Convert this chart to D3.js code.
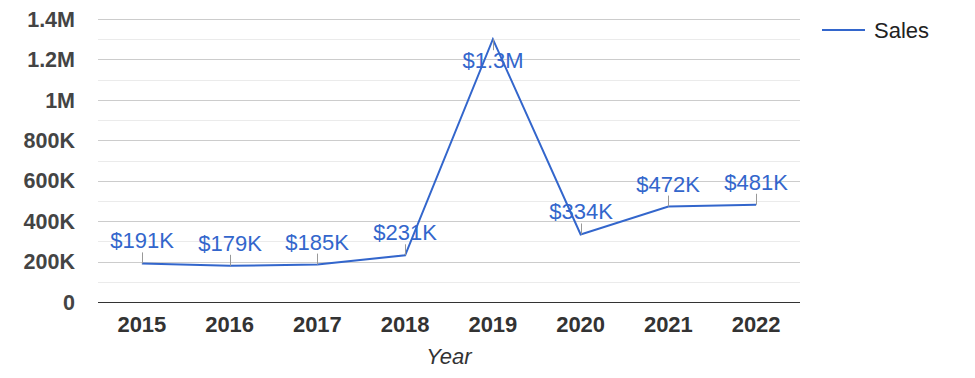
<!DOCTYPE html>
<html><head><meta charset="utf-8">
<script src="https://cdn.jsdelivr.net/npm/d3@7"></script>
<style>body{margin:0;background:#fff}svg{display:block;font-family:Arial,"Liberation Sans",sans-serif}</style>
</head><body><svg id="c" width="975" height="378"></svg>
<script>
const years = ["2015","2016","2017","2018","2019","2020","2021","2022"];
const sales = [191000,179000,185000,231000,1300000,334000,472000,481000];
const labels = ["$191K","$179K","$185K","$231K","$1.3M","$334K","$472K","$481K"];
const yTicks = [0,200000,400000,600000,800000,1000000,1200000,1400000];
const yTickLabels = ["0","200K","400K","600K","800K","1M","1.2M","1.4M"];
const minorTicks = [100000,300000,500000,700000,900000,1100000,1300000];
const seriesName = "Sales";
const xTitle = "Year";

const svg = d3.select("#c");
const L = 98, R = 800, T = 19, B = 302;
const x = d3.scaleBand().domain(years).range([L, R]);
const y = d3.scaleLinear().domain([0,1400000]).range([B, T]);
const cx = d => x(d) + x.bandwidth()/2;
const blue = "#3366cc";
const FS = 22;

svg.append("g").selectAll("line").data(minorTicks).join("line")
  .attr("x1", L).attr("x2", R).attr("y1", d=>Math.round(y(d))+0.5).attr("y2", d=>Math.round(y(d))+0.5)
  .attr("stroke", "#ebebeb");
svg.append("g").selectAll("line").data(yTicks.slice(1)).join("line")
  .attr("x1", L).attr("x2", R).attr("y1", d=>Math.round(y(d))+0.5).attr("y2", d=>Math.round(y(d))+0.5)
  .attr("stroke", "#cccccc");
svg.append("line").attr("x1", L).attr("x2", R).attr("y1", y(0)+0.5).attr("y2", y(0)+0.5).attr("stroke", "#333");

svg.append("g").selectAll("text").data(yTicks).join("text")
  .attr("x", 75).attr("y", d=>y(d)).attr("dy", "0.36em").attr("text-anchor","end")
  .attr("font-size", 21.5).attr("font-weight","bold").attr("fill","#444")
  .text((d,i)=>yTickLabels[i]);

svg.append("g").selectAll("text").data(years).join("text")
  .attr("x", d=>cx(d)).attr("y", 332).attr("text-anchor","middle")
  .attr("font-size", FS).attr("font-weight","bold").attr("fill","#333")
  .text(d=>d);

svg.append("text").attr("x", (L+R)/2).attr("y", 364).attr("text-anchor","middle")
  .attr("font-size", FS).attr("font-style","italic").attr("fill","#333").text(xTitle);

const pts = years.map((d,i)=>({year:d, v:sales[i], label:labels[i]}));
svg.append("path").datum(pts)
  .attr("d", d3.line().x(d=>cx(d.year)).y(d=>y(d.v)))
  .attr("fill","none").attr("stroke", blue).attr("stroke-width", 2);

const ann = svg.append("g");
pts.forEach(p => {
  const px = Math.round(cx(p.year)), py = y(p.v);
  const below = py < 60;
  if (below) {
    ann.append("line").attr("x1", px+0.5).attr("x2", px+0.5).attr("y1", py).attr("y2", py+11).attr("stroke","#999");
    ann.append("text").attr("x", px).attr("y", py+29).attr("text-anchor","middle")
      .attr("font-size", FS).attr("fill", blue).text(p.label);
  } else {
    ann.append("line").attr("x1", px+0.5).attr("x2", px+0.5).attr("y1", py).attr("y2", py-11).attr("stroke","#999");
    ann.append("text").attr("x", px).attr("y", py-15).attr("text-anchor","middle")
      .attr("font-size", FS).attr("fill", blue).text(p.label);
  }
});

svg.append("line").attr("x1", 822).attr("x2", 865).attr("y1", 30).attr("y2", 30).attr("stroke", blue).attr("stroke-width", 2);
svg.append("text").attr("x", 874).attr("y", 30).attr("dy","0.36em").attr("font-size", FS).attr("fill","#222").text(seriesName);
</script></body></html>
